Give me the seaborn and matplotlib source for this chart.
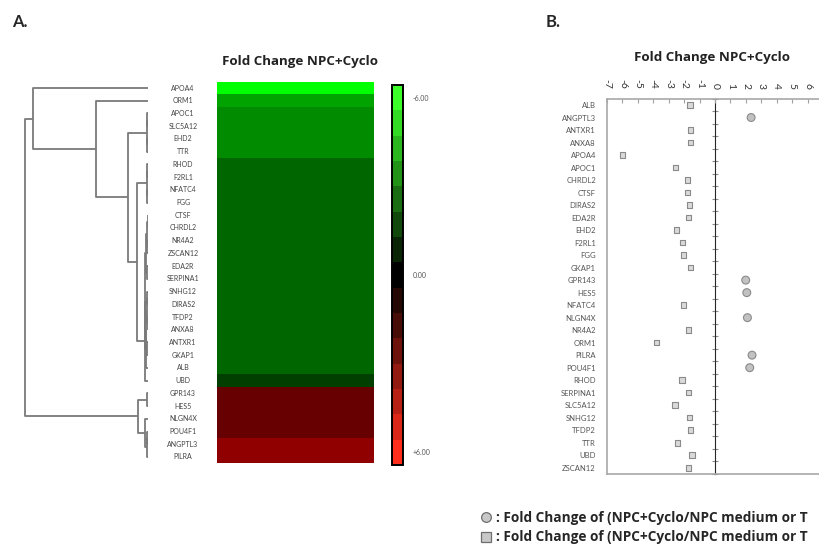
import numpy as np
import pandas as pd
import seaborn as sns
import matplotlib.pyplot as plt
from matplotlib.colors import LinearSegmentedColormap, ListedColormap, Normalize
from matplotlib.cm import ScalarMappable
from matplotlib.lines import Line2D

# --- Panel A : heatmap (ordre du clustering)
genes_a = ["APOA4", "ORM1", "APOC1", "SLC5A12", "EHD2", "TTR", "RHOD", "F2RL1",
           "NFATC4", "FGG", "CTSF", "CHRDL2", "NR4A2", "ZSCAN12", "EDA2R",
           "SERPINA1", "SNHG12", "DIRAS2", "TFDP2", "ANXA8", "ANTXR1", "GKAP1",
           "ALB", "UBD", "GPR143", "HES5", "NLGN4X", "POU4F1", "ANGPTL3", "PILRA"]
heat_values = [-6.0, -3.8, -3.25, -3.25, -3.25, -3.25, -2.4, -2.4,
               -2.4, -2.4, -2.4, -2.4, -2.4, -2.4, -2.4,
               -2.4, -2.4, -2.4, -2.4, -2.4, -2.4, -2.4,
               -2.4, -1.5, 2.4, 2.4, 2.4, 2.4, 3.4, 3.4]

# dendrogramme : (enfant gauche, enfant droit, hauteur), ids >= 30 = noeuds
merges = [(2, 3, 0.8), (4, 5, 0.8), (30, 31, 1.5),
          (6, 7, 0.8), (8, 9, 0.8), (33, 34, 1.5),
          (10, 11, 0.5), (12, 13, 0.6), (36, 37, 1.2), (14, 15, 0.6),
          (38, 39, 1.8), (16, 17, 0.6), (18, 19, 0.5), (41, 42, 1.4),
          (20, 21, 0.6), (43, 44, 1.9), (45, 22, 2.5), (40, 46, 3.0),
          (47, 23, 3.5),
          (35, 48, 11.0), (32, 49, 20.0), (1, 50, 52.0), (0, 51, 115.0),
          (24, 25, 1.0), (27, 28, 0.8), (54, 29, 1.5), (26, 55, 3.0),
          (53, 56, 10.0),
          (52, 57, 123.0)]

cbar_ticks = [-5.6, 0, 5.6]
cbar_labels = ["-6.00", "0.00", "+6.00"]

# --- Panel B : fold change par gene
genes_b = ["ALB", "ANGPTL3", "ANTXR1", "ANXA8", "APOA4", "APOC1", "CHRDL2",
           "CTSF", "DIRAS2", "EDA2R", "EHD2", "F2RL1", "FGG", "GKAP1",
           "GPR143", "HES5", "NFATC4", "NLGN4X", "NR4A2", "ORM1", "PILRA",
           "POU4F1", "RHOD", "SERPINA1", "SLC5A12", "SNHG12", "TFDP2", "TTR",
           "UBD", "ZSCAN12"]
fc_b = [-1.62, 2.34, -1.6, -1.6, -6.0, -2.55, -1.77,
        -1.77, -1.64, -1.73, -2.49, -2.1, -2.03, -1.58,
        1.99, 2.06, -2.03, 2.1, -1.73, -3.79, 2.4,
        2.25, -2.14, -1.71, -2.58, -1.66, -1.6, -2.42,
        -1.49, -1.73]
x_ticks = list(range(-7, 8))
x_tick_labels = ["-7", "-6", "-5", "-4", "-3", "-2", "-1", "0",
                 "1", "2", "3", "4", "5", "6", ""]
legend_text = ": Fold Change of (NPC+Cyclo/NPC medium or T"

sns.set_style("white")
plt.rcParams["font.family"] = ["Lato", "DejaVu Sans"]

W, H = 819, 545
fig = plt.figure(figsize=(W / 100, H / 100), dpi=100)


def box(x0, y0, x1, y1):
    return [x0 / W, 1 - y1 / H, (x1 - x0) / W, (y1 - y0) / H]


# ---------- heatmap
heat_cmap = LinearSegmentedColormap.from_list("gkr", ["#00ff00", "#000000", "#ff0000"])
ax_h = fig.add_axes(box(217, 81.7, 373.5, 463.3))
df_a = pd.DataFrame({"fc": heat_values}, index=genes_a)
sns.heatmap(df_a, ax=ax_h, cmap=heat_cmap, vmin=-6, vmax=6, cbar=False,
            xticklabels=False, yticklabels=True)
ax_h.set_yticklabels(genes_a, rotation=0, ha="center")
ax_h.tick_params(axis="y", length=0, pad=24.5, labelsize=5, labelcolor="#444444")
ax_h.set_ylabel("")

# ---------- dendrogramme
ax_d = fig.add_axes(box(24, 81.7, 148, 463.3))
n = len(genes_a)
pos = {i: (i + 0.5, 0.0) for i in range(n)}
for k, (a, b, h) in enumerate(merges):
    ya, ha = pos[a]
    yb, hb = pos[b]
    ax_d.plot([ha, h, h, hb], [ya, ya, yb, yb], color="#7a7a7a", lw=1.3,
              solid_capstyle="butt")
    pos[n + k] = ((ya + yb) / 2, h)
ax_d.set_xlim(124, 0)
ax_d.set_ylim(n, 0)
ax_d.axis("off")

# ---------- barre de couleur discrete
bar_cmap = ListedColormap(
    LinearSegmentedColormap.from_list("bar", ["#3cff2a", "#000000", "#ff2d1c"])(np.linspace(0, 1, 15)))
cax = fig.add_axes(box(391.5, 85, 403, 465))
cb = fig.colorbar(ScalarMappable(norm=Normalize(-6, 6), cmap=bar_cmap), cax=cax)
cb.ax.invert_yaxis()
cb.set_ticks(cbar_ticks)
cb.set_ticklabels(cbar_labels)
cb.ax.tick_params(length=0, labelsize=5, labelcolor="#555555", pad=7)
cb.outline.set_linewidth(1.4)
cb.outline.set_edgecolor("black")

# ---------- panel B : points
ax_b = fig.add_axes(box(607, 98.75, 607 + 14 * 15.43, 474))
df_b = pd.DataFrame({"gene": genes_b, "fc": fc_b})
df_b["sens"] = np.where(df_b["fc"] > 0, "up", "down")
sns.scatterplot(data=df_b, x="fc", y="gene", hue="sens", style="sens", size="sens",
                palette={"up": "#c2c2c2", "down": "#dadada"},
                markers={"up": "o", "down": "s"}, sizes={"up": 32, "down": 16},
                edgecolor="#8a8a8a", linewidth=0.8, legend=False, ax=ax_b)
ax_b.set_xlim(-7, 7)
ax_b.set_ylim(len(genes_b) - 0.5, -0.5)
ax_b.set_xlabel("")
ax_b.set_ylabel("")
ax_b.set_xticks(x_ticks)
ax_b.set_xticklabels(x_tick_labels)
ax_b.xaxis.tick_top()
ax_b.tick_params(axis="x", direction="in", length=3, color="#a0a0a0", width=0.8,
                 labelsize=7.5, labelcolor="#333333", labelrotation=270, pad=7)
ax_b.tick_params(axis="y", length=0, labelsize=5.5, labelcolor="#555555", pad=8)
for s in ["top", "left", "bottom"]:
    ax_b.spines[s].set_color("#a8a8a8")
    ax_b.spines[s].set_linewidth(1.2)
    ax_b.spines[s].set_visible(True)
ax_b.spines["right"].set_visible(False)

# axe vertical au zero avec graduations entre les lignes
sec = ax_b.secondary_yaxis(0.5)
sec.set_yticks(np.arange(-0.5, len(genes_b), 1.0))
sec.set_yticklabels([])
sec.tick_params(direction="inout", length=5, color="#8c8c8c", width=0.8)
sec.spines["left"].set_color("#8c8c8c")
sec.spines["left"].set_linewidth(1.0)

# ---------- textes
title_font = dict(fontsize=9.6, fontweight="bold", color="#222222",
                  family=["Open Sans", "DejaVu Sans"])
fig.text(300 / W, 1 - 62 / H, "Fold Change NPC+Cyclo", ha="center", va="center", **title_font)
fig.text(712 / W, 1 - 58 / H, "Fold Change NPC+Cyclo", ha="center", va="center", **title_font)
fig.text(12 / W, 1 - 22 / H, "A.", ha="left", va="center", fontsize=12, fontweight="bold")
fig.text(546 / W, 1 - 22 / H, "B.", ha="left", va="center", fontsize=12, fontweight="bold")

handles = [Line2D([], [], ls="", marker="o", markersize=7, markerfacecolor="#c8c8c8",
                  markeredgecolor="#6f6f6f", markeredgewidth=0.9),
           Line2D([], [], ls="", marker="s", markersize=7, markerfacecolor="#c8c8c8",
                  markeredgecolor="#6f6f6f", markeredgewidth=0.9)]
fig.legend(handles, [legend_text, legend_text], loc="upper left",
           bbox_to_anchor=(480 / W, 1 - 511 / H), frameon=False,
           prop={"weight": "bold", "size": 9.8, "family": ["Open Sans", "DejaVu Sans"]},
           handlelength=0.9, handletextpad=0.25, labelspacing=0.4,
           borderaxespad=0, borderpad=0)

plt.savefig("out.png", dpi=100)
